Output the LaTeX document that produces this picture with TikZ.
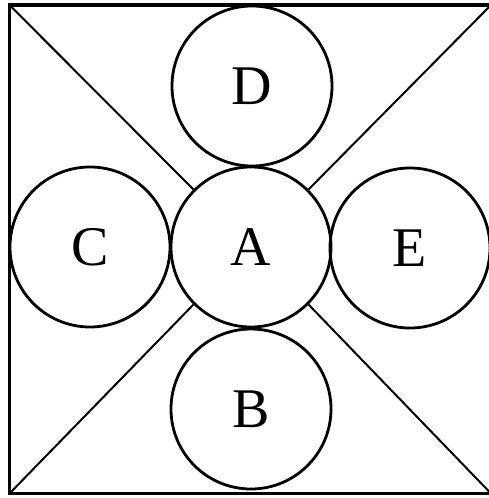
\documentclass[tikz,border=0pt]{standalone}
\usepackage{fontspec}
\setmainfont{Liberation Serif}
\begin{document}
\begin{tikzpicture}[x=1pt,y=-1pt,
  elem/.style={circle,draw,line width=2.8pt,minimum size=160pt,inner sep=0pt,
    font=\fontsize{56}{56}\selectfont},
  diag/.style={line width=2pt}]
\useasboundingbox (0,0) rectangle (489,498);
\fill[white] (0,0) rectangle (489,498);
\coordinate (tl) at (9.5,5);
\coordinate (tr) at (491,5);
\coordinate (br) at (491,493.5);
\coordinate (bl) at (9.5,493.5);
\draw[line width=3.5pt] (tl) -- (tr) -- (br) -- (bl) -- cycle;
\node[elem] (A) at (251,247) {A};
\node[elem] (D) at (252,86) {D};
\node[elem] (B) at (251,409) {B};
\node[elem] (C) at (90,247) {C};
\node[elem] (E) at (410,248) {E};
\draw[diag] (tl) -- (A.north west);
\draw[diag] (tr) -- (A.north east);
\draw[diag] (bl) -- (A.south west);
\draw[diag] (br) -- (A.south east);
\end{tikzpicture}
\end{document}
